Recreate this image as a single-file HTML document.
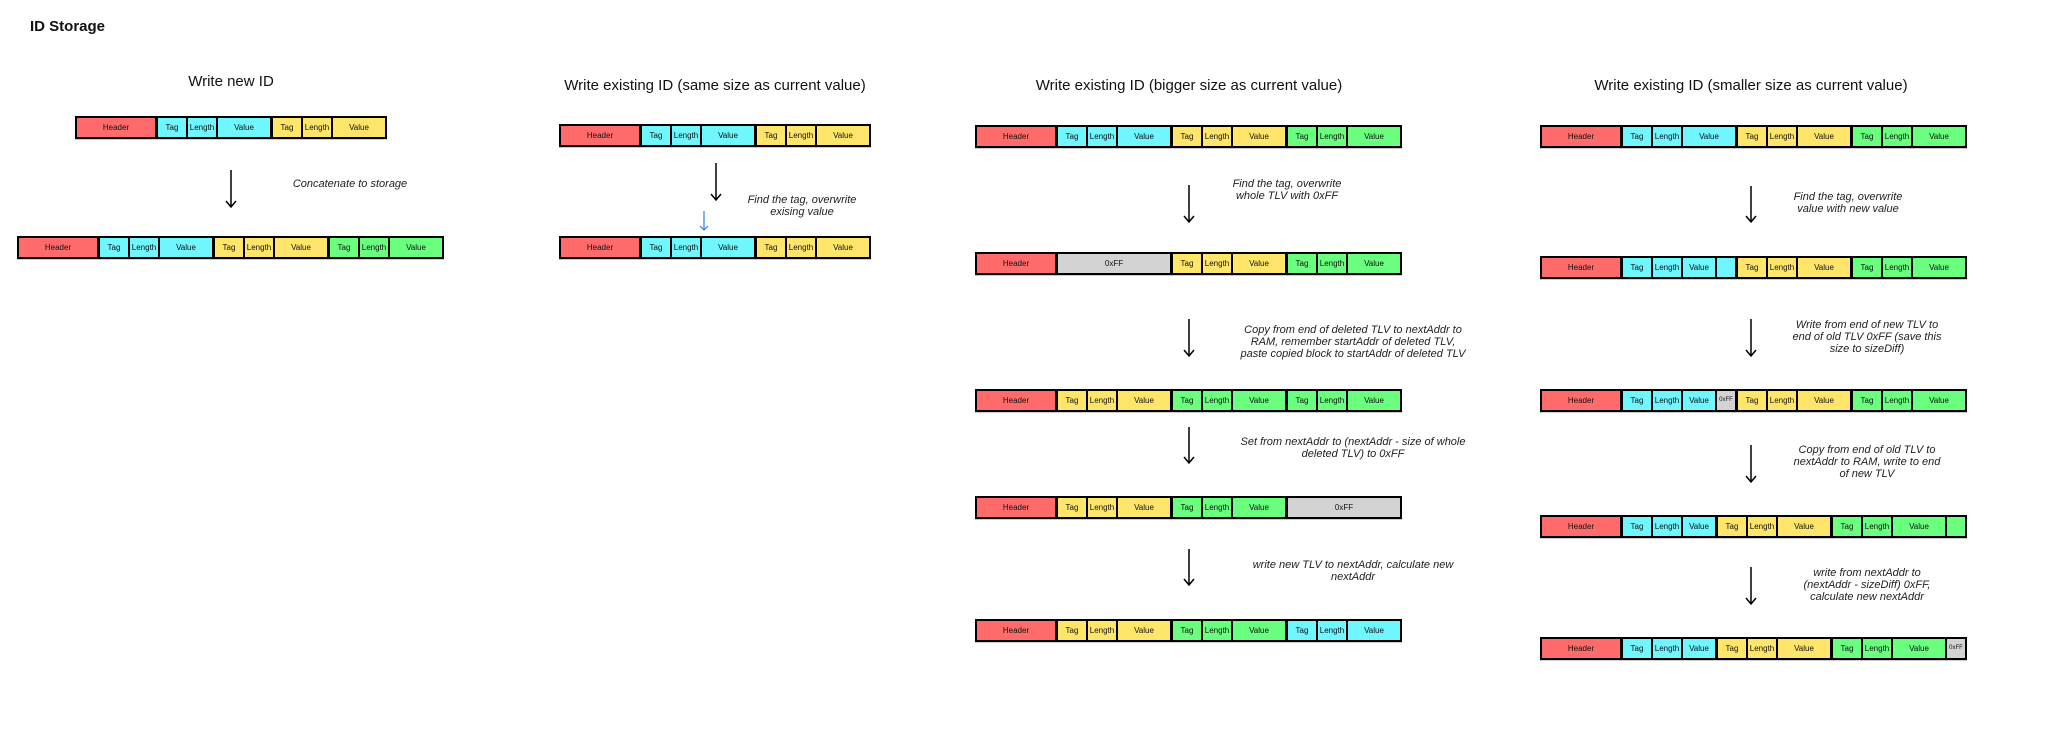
<!DOCTYPE html>
<html><head><meta charset="utf-8"><style>
html,body{margin:0;padding:0;background:#fff;}
body{width:2048px;height:737px;position:relative;overflow:hidden;font-family:"Liberation Sans",sans-serif;color:#111;}
.bar{position:absolute;height:19px;padding:2px;background:#000;display:flex;gap:2px;box-shadow:0 1px 0 #ccc;}
.c{height:19px;font-size:8px;line-height:19px;text-align:center;overflow:hidden;white-space:nowrap;}
.g{margin-left:1px;}
.H{width:78px;background:#ff6b6b;}
.T{width:28px;}.L{width:28px;}.V{width:52px;}.S{width:32px;}.E{width:18px;}
.cy{background:#6ff6ff;}.ye{background:#ffe66b;}.gr{background:#6bff7f;}.gy{background:#d3d3d3;}
.ff{width:112px;}
.txt{position:absolute;width:420px;font-style:italic;font-size:11px;line-height:12px;text-align:center;color:#222;}
.ttl{position:absolute;width:500px;font-size:15px;text-align:center;line-height:18px;}
</style></head><body>
<div style="position:absolute;left:30px;top:18px;font-weight:bold;font-size:15px;">ID Storage</div>

<div class="ttl" style="left:-19px;top:73px;">Write new ID</div>
<div class="ttl" style="left:465px;top:77px;">Write existing ID (same size as current value)</div>
<div class="ttl" style="left:939px;top:77px;">Write existing ID (bigger size as current value)</div>
<div class="ttl" style="left:1501px;top:77px;">Write existing ID (smaller size as current value)</div>

<!-- col1 -->
<div class="bar" style="left:75px;top:116px;"><div class="c H">Header</div><div class="c T cy g">Tag</div><div class="c L cy">Length</div><div class="c V cy">Value</div><div class="c T ye g">Tag</div><div class="c L ye">Length</div><div class="c V ye">Value</div></div>
<div class="bar" style="left:17px;top:236px;"><div class="c H">Header</div><div class="c T cy g">Tag</div><div class="c L cy">Length</div><div class="c V cy">Value</div><div class="c T ye g">Tag</div><div class="c L ye">Length</div><div class="c V ye">Value</div><div class="c T gr g">Tag</div><div class="c L gr">Length</div><div class="c V gr">Value</div></div>

<!-- col2 -->
<div class="bar" style="left:559px;top:124px;"><div class="c H">Header</div><div class="c T cy g">Tag</div><div class="c L cy">Length</div><div class="c V cy">Value</div><div class="c T ye g">Tag</div><div class="c L ye">Length</div><div class="c V ye">Value</div></div>
<div class="bar" style="left:559px;top:236px;"><div class="c H">Header</div><div class="c T cy g">Tag</div><div class="c L cy">Length</div><div class="c V cy">Value</div><div class="c T ye g">Tag</div><div class="c L ye">Length</div><div class="c V ye">Value</div></div>

<!-- col3 -->
<div class="bar" style="left:975px;top:125px;"><div class="c H">Header</div><div class="c T cy g">Tag</div><div class="c L cy">Length</div><div class="c V cy">Value</div><div class="c T ye g">Tag</div><div class="c L ye">Length</div><div class="c V ye">Value</div><div class="c T gr g">Tag</div><div class="c L gr">Length</div><div class="c V gr">Value</div></div>
<div class="bar" style="left:975px;top:252px;"><div class="c H">Header</div><div class="c ff gy g">0xFF</div><div class="c T ye g">Tag</div><div class="c L ye">Length</div><div class="c V ye">Value</div><div class="c T gr g">Tag</div><div class="c L gr">Length</div><div class="c V gr">Value</div></div>
<div class="bar" style="left:975px;top:389px;"><div class="c H">Header</div><div class="c T ye g">Tag</div><div class="c L ye">Length</div><div class="c V ye">Value</div><div class="c T gr g">Tag</div><div class="c L gr">Length</div><div class="c V gr">Value</div><div class="c T gr g">Tag</div><div class="c L gr">Length</div><div class="c V gr">Value</div></div>
<div class="bar" style="left:975px;top:496px;"><div class="c H">Header</div><div class="c T ye g">Tag</div><div class="c L ye">Length</div><div class="c V ye">Value</div><div class="c T gr g">Tag</div><div class="c L gr">Length</div><div class="c V gr">Value</div><div class="c ff gy g">0xFF</div></div>
<div class="bar" style="left:975px;top:619px;"><div class="c H">Header</div><div class="c T ye g">Tag</div><div class="c L ye">Length</div><div class="c V ye">Value</div><div class="c T gr g">Tag</div><div class="c L gr">Length</div><div class="c V gr">Value</div><div class="c T cy g">Tag</div><div class="c L cy">Length</div><div class="c V cy">Value</div></div>

<!-- col4 -->
<div class="bar" style="left:1540px;top:125px;"><div class="c H">Header</div><div class="c T cy g">Tag</div><div class="c L cy">Length</div><div class="c V cy">Value</div><div class="c T ye g">Tag</div><div class="c L ye">Length</div><div class="c V ye">Value</div><div class="c T gr g">Tag</div><div class="c L gr">Length</div><div class="c V gr">Value</div></div>
<div class="bar" style="left:1540px;top:256px;"><div class="c H">Header</div><div class="c T cy g">Tag</div><div class="c L cy">Length</div><div class="c S cy">Value</div><div class="c E cy">&nbsp;</div><div class="c T ye g">Tag</div><div class="c L ye">Length</div><div class="c V ye">Value</div><div class="c T gr g">Tag</div><div class="c L gr">Length</div><div class="c V gr">Value</div></div>
<div class="bar" style="left:1540px;top:389px;"><div class="c H">Header</div><div class="c T cy g">Tag</div><div class="c L cy">Length</div><div class="c S cy">Value</div><div class="c E gy" style="font-size:6px;">0xFF</div><div class="c T ye g">Tag</div><div class="c L ye">Length</div><div class="c V ye">Value</div><div class="c T gr g">Tag</div><div class="c L gr">Length</div><div class="c V gr">Value</div></div>
<div class="bar" style="left:1540px;top:515px;"><div class="c H">Header</div><div class="c T cy g">Tag</div><div class="c L cy">Length</div><div class="c S cy">Value</div><div class="c T ye g">Tag</div><div class="c L ye">Length</div><div class="c V ye">Value</div><div class="c T gr g">Tag</div><div class="c L gr">Length</div><div class="c V gr">Value</div><div class="c E gr">&nbsp;</div></div>
<div class="bar" style="left:1540px;top:637px;"><div class="c H">Header</div><div class="c T cy g">Tag</div><div class="c L cy">Length</div><div class="c S cy">Value</div><div class="c T ye g">Tag</div><div class="c L ye">Length</div><div class="c V ye">Value</div><div class="c T gr g">Tag</div><div class="c L gr">Length</div><div class="c V gr">Value</div><div class="c E gy" style="font-size:6px;">0xFF</div></div>

<!-- texts -->
<div class="txt" style="left:140px;top:178px;">Concatenate to storage</div>
<div class="txt" style="left:592px;top:194px;">Find the tag, overwrite<br>exising value</div>
<div class="txt" style="left:1077px;top:178px;">Find the tag, overwrite<br>whole TLV with 0xFF</div>
<div class="txt" style="left:1143px;top:324px;">Copy from end of deleted TLV to nextAddr to<br>RAM, remember startAddr of deleted TLV,<br>paste copied block to startAddr of deleted TLV</div>
<div class="txt" style="left:1143px;top:436px;">Set from nextAddr to (nextAddr - size of whole<br>deleted TLV) to 0xFF</div>
<div class="txt" style="left:1143px;top:559px;">write new TLV to nextAddr, calculate new<br>nextAddr</div>
<div class="txt" style="left:1638px;top:191px;">Find the tag, overwrite<br>value with new value</div>
<div class="txt" style="left:1657px;top:319px;">Write from end of new TLV to<br>end of old TLV 0xFF (save this<br>size to sizeDiff)</div>
<div class="txt" style="left:1657px;top:444px;">Copy from end of old TLV to<br>nextAddr to RAM, write to end<br>of new TLV</div>
<div class="txt" style="left:1657px;top:567px;">write from nextAddr to<br>(nextAddr - sizeDiff) 0xFF,<br>calculate new nextAddr</div>

<svg width="2048" height="737" style="position:absolute;left:0;top:0;" fill="none" stroke="#000" stroke-width="1.5">
<g>
<path d="M231 170V207M226 201L231 207L236 201"/>
<path d="M716 163V200M711 194L716 200L721 194"/>
<path d="M1189 185V222M1184 216L1189 222L1194 216"/>
<path d="M1189 319V356M1184 350L1189 356L1194 350"/>
<path d="M1189 427V463M1184 457L1189 463L1194 457"/>
<path d="M1189 549V585M1184 579L1189 585L1194 579"/>
<path d="M1751 186V222M1746 216L1751 222L1756 216"/>
<path d="M1751 319V356M1746 350L1751 356L1756 350"/>
<path d="M1751 445V482M1746 476L1751 482L1756 476"/>
<path d="M1751 567V604M1746 598L1751 604L1756 598"/>
</g>
<path d="M704 211V230M700 226L704 230L708 226" stroke="#2f80ed" stroke-width="1.2"/>
</svg>
</body></html>
